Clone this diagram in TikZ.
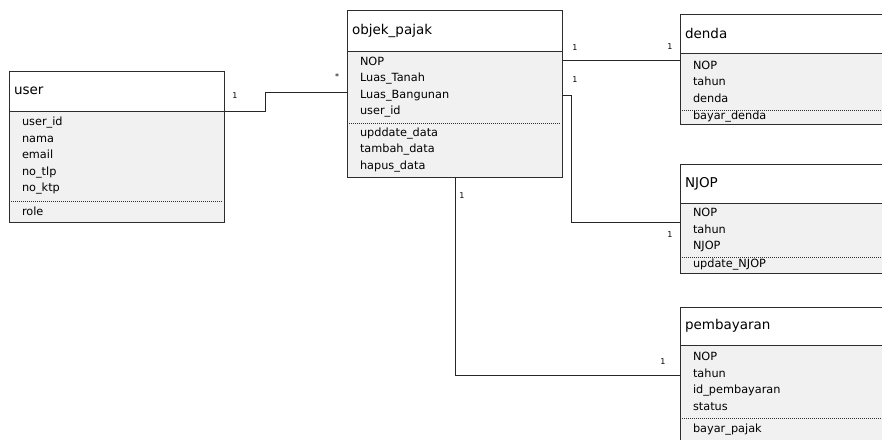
\documentclass[tikz,border=0pt]{standalone}
\usepackage{fontspec}
\setmainfont{DejaVu Sans}
\usetikzlibrary{positioning}
\definecolor{bodyfill}{RGB}{241,241,241}
\definecolor{linegray}{RGB}{45,45,45}

\begin{document}
\begin{tikzpicture}[
	  x=1pt, y=-1pt,
	  head/.style={rectangle, anchor=north west, fill=white, outer sep=0pt, text width=205pt, inner xsep=5pt, inner ysep=0pt, align=left, font=\fontsize{13.5}{16}\selectfont},
	  attr/.style={rectangle, anchor=north west, fill=bodyfill, outer sep=0pt, text width=189pt, inner xsep=13pt, inner ysep=0pt, align=left, font=\fontsize{11.3}{16.5}\selectfont},
	  frame/.style={draw=linegray, line width=0.9pt},
	  sep/.style={draw=linegray, line width=0.6pt, dash pattern=on 1pt off 1pt},
	  conn/.style={draw=black!85, line width=0.9pt},
	  mult/.style={inner sep=0pt, font=\fontsize{8}{8}\selectfont}
	]
	\useasboundingbox (0,0) rectangle (882,439);
	\clip (0,0) rectangle (882,439);

	% user
	\node[head, minimum height=40pt] (user) at (9,71) {user};
	\node[attr, minimum height=90pt] (userattr) at (user.south west) {user\_id\\nama\\email\\no\_tlp\\no\_ktp};
	\node[attr, minimum height=21pt] (userops) at (userattr.south west) {role};
	\draw[frame] (user.north west) rectangle (userops.south east);
	\draw[frame] (user.south west) -- (user.south east);
	\draw[sep] ([xshift=2pt]userattr.south west) -- ([xshift=-2pt]userattr.south east);

	% objek_pajak
	\node[head, minimum height=41pt] (objek) at (347,10) {objek\_pajak};
	\node[attr, minimum height=72pt] (objattr) at (objek.south west) {NOP\\Luas\_Tanah\\Luas\_Bangunan\\user\_id};
	\node[attr, minimum height=54pt] (objops) at (objattr.south west) {upddate\_data\\tambah\_data\\hapus\_data};
	\draw[frame] (objek.north west) rectangle (objops.south east);
	\draw[frame] (objek.south west) -- (objek.south east);
	\draw[sep] ([xshift=2pt]objattr.south west) -- ([xshift=-2pt]objattr.south east);

	% denda
	\node[head, minimum height=39pt] (denda) at (680,14) {denda};
	\node[attr, minimum height=57pt] (dendaattr) at (denda.south west) {NOP\\tahun\\denda};
	\node[attr, minimum height=14pt] (dendaops) at (dendaattr.south west) {bayar\_denda};
	\draw[frame] (denda.north west) rectangle (dendaops.south east);
	\draw[frame] (denda.south west) -- (denda.south east);
	\draw[sep] ([xshift=2pt]dendaattr.south west) -- ([xshift=-2pt]dendaattr.south east);

	% NJOP
	\node[head, minimum height=39pt] (njop) at (680,164) {NJOP};
	\node[attr, minimum height=54pt] (njopattr) at (njop.south west) {NOP\\tahun\\NJOP};
	\node[attr, minimum height=16pt] (njopops) at (njopattr.south west) {update\_NJOP};
	\draw[frame] (njop.north west) rectangle (njopops.south east);
	\draw[frame] (njop.south west) -- (njop.south east);
	\draw[sep] ([xshift=2pt]njopattr.south west) -- ([xshift=-2pt]njopattr.south east);

	% pembayaran
	\node[head, minimum height=38pt] (bayar) at (680,307) {pembayaran};
	\node[attr, minimum height=73pt] (bayarattr) at (bayar.south west) {NOP\\tahun\\id\_pembayaran\\status};
	\node[attr, minimum height=24pt] (bayarops) at (bayarattr.south west) {bayar\_pajak};
	\draw[frame] (bayar.north west) rectangle (bayarops.south east);
	\draw[frame] (bayar.south west) -- (bayar.south east);
	\draw[sep] ([xshift=2pt]bayarattr.south west) -- ([xshift=-2pt]bayarattr.south east);

	% relasi
	\coordinate (o2d) at ([yshift=-9pt]objek.south east);
	\coordinate (o2n) at ([yshift=-44pt]objek.south east);
	\coordinate (o2p) at ([xshift=108pt]objops.south west);
	\draw[conn] (user.south east) -- ++(41,0) |- ([yshift=-41pt]objek.south west);
	\draw[conn] (o2d) -- (o2d -| denda.west);
	\draw[conn] (o2n) -- ++(9,0) |- ([yshift=-19pt]njop.south west);
	\draw[conn] (o2p) |- ([yshift=-30pt]bayar.south west);

	\node[mult] (m1) at (235,96) {1};
	\node[mult] (m2) at (337,77) {*};
	\node[mult] (m3) at (575,48) {1};
	\node[mult] (m4) at (670,47) {1};
	\node[mult] (m5) at (575,80) {1};
	\node[mult] (m6) at (670,235) {1};
	\node[mult] (m7) at (462,196) {1};
	\node[mult] (m8) at (663,362) {1};

\end{tikzpicture}
\end{document}
